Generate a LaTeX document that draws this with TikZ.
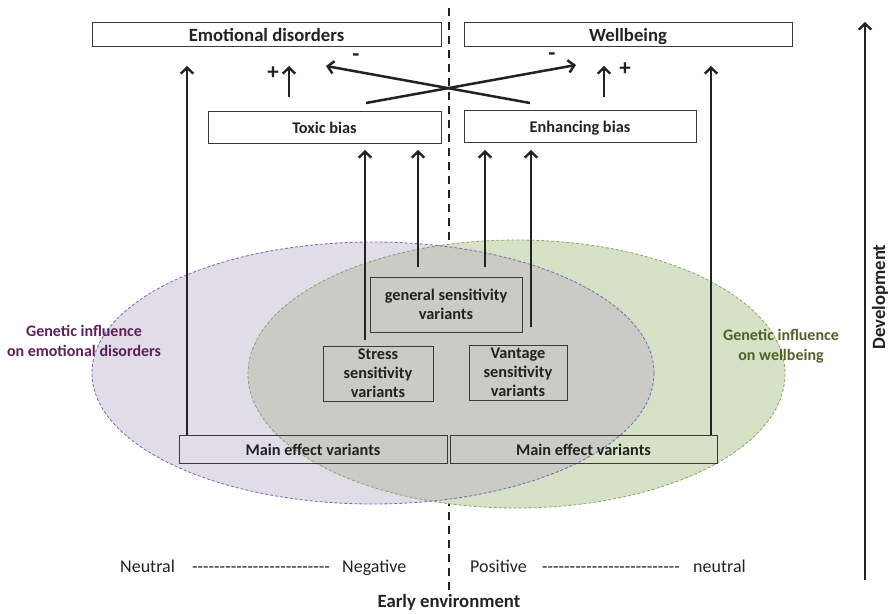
\documentclass[tikz,border=0pt]{standalone}
\usepackage{fontspec}
\setmainfont{Carlito}[Ligatures=TeXOff]
\usetikzlibrary{arrows.meta}

\definecolor{inkline}{HTML}{222222}
\definecolor{boxline}{HTML}{3A3A3A}
\definecolor{emofill}{HTML}{E0DCE8}
\definecolor{emoedge}{HTML}{7B62B0}
\definecolor{wellfill}{HTML}{D5E2C6}
\definecolor{welledge}{HTML}{86A266}
\definecolor{bothfill}{HTML}{C9CBC4}
\definecolor{emotext}{HTML}{5E1F5A}
\definecolor{welltext}{HTML}{4F6228}

\tikzset{
  bigfont/.style={font=\bfseries\fontsize{18.7}{22}\selectfont},
  boxfont/.style={font=\bfseries\fontsize{16.3}{19}\selectfont},
  labbox/.style={draw=boxline, line width=0.9pt, inner sep=0pt, align=center, text=inkline},
  onelinebig/.style={text height=14pt, text depth=0pt},
  oneline/.style={text height=12pt, text depth=0pt},
  arr/.style={draw=inkline, line width=2.5pt, -{Straight Barb[length=6pt,width=12.5pt,line width=2.4pt]}},
  sign/.style={font=\bfseries\fontsize{23}{25}\selectfont, text=inkline, inner sep=0pt},
  envtext/.style={font=\fontsize{18}{20}\selectfont, text=inkline, inner sep=0pt},
}

\begin{document}
\begin{tikzpicture}[x=1pt,y=-1pt]
\useasboundingbox (0,0) rectangle (891,613);

% centre divider between the two sides
\draw[inkline, line width=2.5pt, dash pattern=on 8pt off 6pt] (449,8) -- (449,590);

% genetic influence regions
\fill[emofill] (373,373) ellipse [x radius=281, y radius=131];
\fill[wellfill] (516.5,374) ellipse [x radius=268.5, y radius=134];
\begin{scope}
  \clip (373,373) ellipse [x radius=281, y radius=131];
  \fill[bothfill] (516.5,374) ellipse [x radius=268.5, y radius=134];
\end{scope}
\draw[welledge, line width=0.8pt, dash pattern=on 3pt off 2pt] (516.5,374) ellipse [x radius=268.5, y radius=134];
\draw[emoedge, line width=0.8pt, dash pattern=on 3pt off 2pt] (373,373) ellipse [x radius=281, y radius=131];

% outcome boxes
\node[labbox, bigfont, onelinebig, minimum width=349pt, minimum height=24pt] (emo) at (266.5,34) {Emotional disorders};
\node[labbox, bigfont, onelinebig, minimum width=328pt, minimum height=24pt] (well) at (628,34) {Wellbeing};

% bias boxes
\node[labbox, boxfont, oneline, minimum width=233pt, minimum height=32pt] (toxic) at (324.5,127) {Toxic bias};
\node[labbox, boxfont, oneline, minimum width=232pt, minimum height=32pt] (enh) at (580,126) {Enhancing bias};

% sensitivity variant boxes
\node[labbox, boxfont, minimum width=152pt, minimum height=55pt] (gen) at (446,304.5) {general sensitivity\\variants};
\node[labbox, boxfont, minimum width=110pt, minimum height=55pt] (stress) at (378,373.5) {Stress\\sensitivity\\variants};
\node[labbox, boxfont, minimum width=98pt, minimum height=55pt] (vant) at (518,372.5) {Vantage\\sensitivity\\variants};

% main effect boxes
\node[labbox, boxfont, oneline, minimum width=268pt, minimum height=28pt] (mainL) at (313,449) {Main effect variants};
\node[labbox, boxfont, oneline, minimum width=267pt, minimum height=28pt] (mainR) at (583.5,449) {Main effect variants};

% region labels
\node[font=\bfseries\fontsize{16}{19.5}\selectfont, text=emotext, align=center, inner sep=0pt] (emolab) at (84,341) {Genetic influence\\on emotional disorders};
\node[font=\bfseries\fontsize{16}{19.5}\selectfont, text=welltext, align=center, inner sep=0pt] (welllab) at (781,346) {Genetic influence\\on wellbeing};

% arrow end points
\coordinate (tipL) at (187,66);
\coordinate (tipR) at (711,66);
\coordinate (tS) at (365,150);
\coordinate (tG1) at (418,150);
\coordinate (tG2) at (485,150);
\coordinate (tV) at (531,150);
\coordinate (sS) at (365,340);
\coordinate (sG1) at (418,267);
\coordinate (sG2) at (485,267);
\coordinate (sV) at (531,327);
\coordinate (plusLs) at (289,97);
\coordinate (plusLt) at (289,66);
\coordinate (plusRs) at (604,97);
\coordinate (plusRt) at (604,66);
\coordinate (crossAs) at (366,103);
\coordinate (crossAt) at (576,65);
\coordinate (crossBs) at (530,103);
\coordinate (crossBt) at (326,66);

% main effect paths
\draw[arr] (mainL.north -| tipL) -- (tipL);
\draw[arr] (mainR.north -| tipR) -- (tipR);

% sensitivity paths into the biases
\draw[arr] (sS) -- (tS);
\draw[arr] (sG1) -- (tG1);
\draw[arr] (sG2) -- (tG2);
\draw[arr] (sV) -- (tV);

% bias effects on outcomes
\draw[arr] (plusLs) -- (plusLt);
\draw[arr] (plusRs) -- (plusRt);
\draw[arr] (crossAs) -- (crossAt);
\draw[arr] (crossBs) -- (crossBt);

\node[sign] (pL) at (273,73) {+};
\node[sign] (mL) at (356,58) {-};
\node[sign] (mR) at (552,57) {-};
\node[sign] (pR) at (625,69) {+};

% development axis
\coordinate (devS) at (865,580);
\coordinate (devT) at (865,22);
\draw[arr] (devS) -- (devT);
\node[bigfont, text=inkline, rotate=90, inner sep=0pt] (dev) at (880,297) {Development};

% early environment scale
\node[envtext, anchor=base west] (neu1) at (120,572) {Neutral};
\node[envtext, anchor=base west] (dash1) at (192,572) {-------------------------};
\node[envtext, anchor=base west] (neg) at (342,572) {Negative};
\node[envtext, anchor=base west] (pos) at (470,572) {Positive};
\node[envtext, anchor=base west] (dash2) at (542,572) {-------------------------};
\node[envtext, anchor=base west] (neu2) at (693,572) {neutral};
\node[bigfont, text=inkline, inner sep=0pt] (env) at (449,602) {Early environment};
\end{tikzpicture}
\end{document}
